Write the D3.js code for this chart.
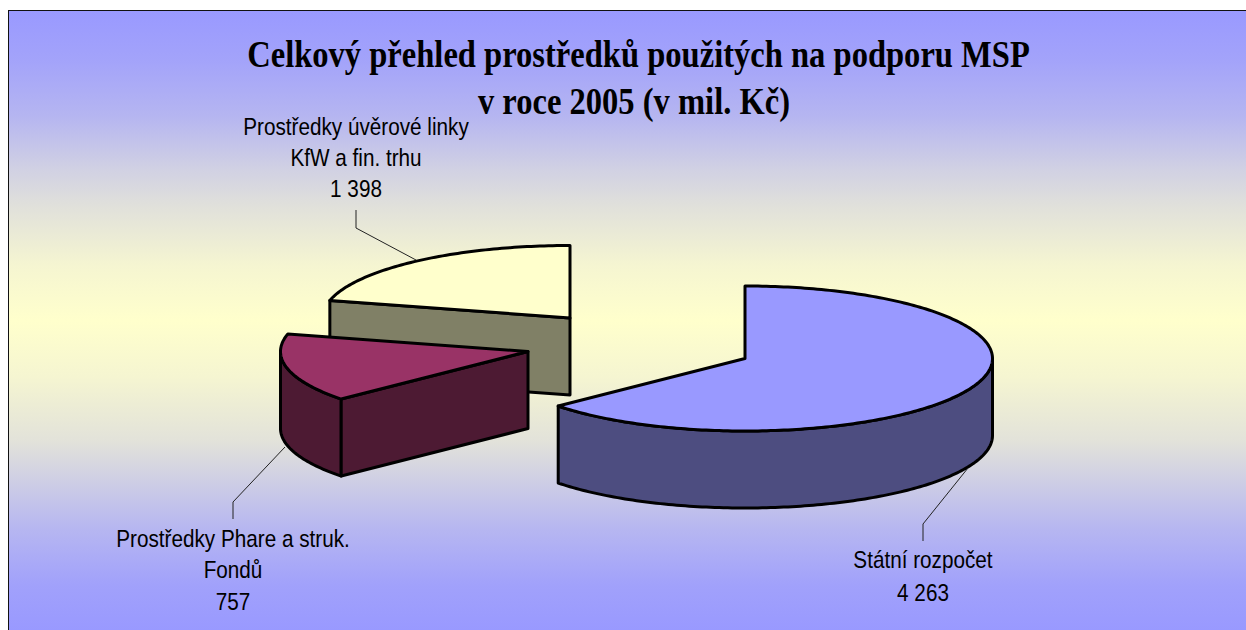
<!DOCTYPE html>
<html><head><meta charset="utf-8">
<script src="https://cdn.jsdelivr.net/npm/d3@7"></script>
<style>html,body{margin:0;padding:0;background:#fff;overflow:hidden}</style>
</head><body>
<svg id="c" width="1246" height="630"></svg>
<script>
const titleLines = ["Celkový přehled prostředků použitých na podporu MSP", "v roce 2005 (v mil. Kč)"];
const categories = ["Státní rozpočet", "Prostředky Phare a struk. Fondů", "Prostředky úvěrové linky KfW a fin. trhu"];
const values = [4263, 757, 1398];
const valueLabels = ["4 263", "757", "1 398"];
const labelLines = [["Státní rozpočet", "4 263"], ["Prostředky Phare a struk.", "Fondů", "757"], ["Prostředky úvěrové linky", "KfW a fin. trhu", "1 398"]];
const topColors = ["#9999FF", "#993366", "#FFFFCC"];
const sideColors = ["#4D4D80", "#4D1A33", "#808066"];

// layout
const W = 1246, H = 630;
const frame = {x: 8.5, y: 10.5, w: 1260, h: 640};
const rx = 247.5, ry = 72.5, depth = 77;
const centers = [[745, 358.5], [528, 351.5], [570, 318]];
const labelAnchors = [[923, [568, 601]], [233, [547, 578, 610]], [356, [135, 166, 197]]];
const leaders = [[[923,541],[923,524],[968,468]], [[233,519],[233,502],[285,447]], [[356,210],[356,228],[416,260]]];
const deg = Math.PI / 180;

const svg = d3.select("#c");
const defs = svg.append("defs");
const grad = defs.append("linearGradient").attr("id", "bg").attr("gradientUnits", "userSpaceOnUse")
  .attr("x1", 0).attr("y1", 0).attr("x2", 0).attr("y2", H);
const mixBg = d3.interpolateRgb("#9999FF", "#FFFFCC");
// blend of the backdrop at each height
const bgStops = [[10, 0], [60, 0.1], [115, 0.27], [170, 0.55], [205, 0.7], [265, 0.9], [321, 1],
                 [377, 0.9], [442, 0.72], [475, 0.55], [530, 0.28], [585, 0.08], [630, 0]];
bgStops.forEach(([y, f]) => grad.append("stop").attr("offset", y / H).attr("stop-color", mixBg(f)));

svg.append("rect").attr("x", frame.x).attr("y", frame.y).attr("width", frame.w).attr("height", frame.h)
  .attr("fill", "url(#bg)").attr("stroke", "#111").attr("stroke-width", 1);

const arcs = d3.pie().sort(null)(values);
// the source chart's 3D view skews the pie's angles on screen
const skew = d3.scaleLinear()
  .domain([0, arcs[0].endAngle, arcs[1].endAngle, 2 * Math.PI])
  .range([0, 229 * deg, 284 * deg, 2 * Math.PI]);

const pt = (c, a, z = 0) => [c[0] + rx * Math.sin(a), c[1] - ry * Math.cos(a) + z];
function arcPts(c, a0, a1, z = 0) {
  const n = Math.max(2, Math.ceil((a1 - a0) / (1 * deg)));
  return d3.range(n + 1).map(i => pt(c, a0 + (a1 - a0) * i / n, z));
}
const line = d3.line();

const drawOrder = [2, 1, 0];
const g = svg.append("g").attr("stroke", "#000").attr("stroke-width", 3).attr("stroke-linejoin", "round");
drawOrder.forEach(i => {
  const c = centers[i], s = skew(arcs[i].startAngle), e = skew(arcs[i].endAngle);
  const w0 = Math.max(s, Math.PI / 2), w1 = Math.min(e, 3 * Math.PI / 2);
  if (w1 > w0) {
    const top = arcPts(c, w0, w1), bot = arcPts(c, w0, w1, depth).reverse();
    g.append("path").attr("d", line(top.concat(bot)) + "Z").attr("fill", sideColors[i]);
  }
  [[s, -Math.sin(s)], [e, Math.sin(e)]].forEach(([a, facing]) => {
    if (facing > 0.01) {
      const p = pt(c, a);
      const q = [[c[0], c[1]], p, [p[0], p[1] + depth], [c[0], c[1] + depth]];
      g.append("path").attr("d", line(q) + "Z").attr("fill", sideColors[i]);
    }
  });
  g.append("path").attr("d", line([c].concat(arcPts(c, s, e))) + "Z").attr("fill", topColors[i]);
});

svg.append("g").selectAll("path").data(leaders).join("path")
  .attr("d", d => line(d)).attr("fill", "none").attr("stroke", "#222").attr("stroke-width", 1);

const labelFont = "'Liberation Sans', Arial, sans-serif";
labelLines.forEach((lines, i) => {
  const [x, ys] = labelAnchors[i];
  lines.forEach((t, j) => {
    svg.append("text").text(t)
      .attr("transform", `translate(${x},${ys[j]}) scale(0.863,1)`)
      .attr("text-anchor", "middle").attr("font-family", labelFont).attr("font-size", 24).attr("fill", "#000");
  });
});

const titleX = [638.5, 634], titleY = [67, 114];
titleLines.forEach((t, j) => {
  svg.append("text").text(t)
    .attr("transform", `translate(${titleX[j]},${titleY[j]}) scale(0.857,1)`)
    .attr("text-anchor", "middle").attr("font-family", "'Liberation Serif', 'Times New Roman', serif")
    .attr("font-weight", "bold").attr("font-size", 38).attr("fill", "#000");
});
</script>
</body></html>
